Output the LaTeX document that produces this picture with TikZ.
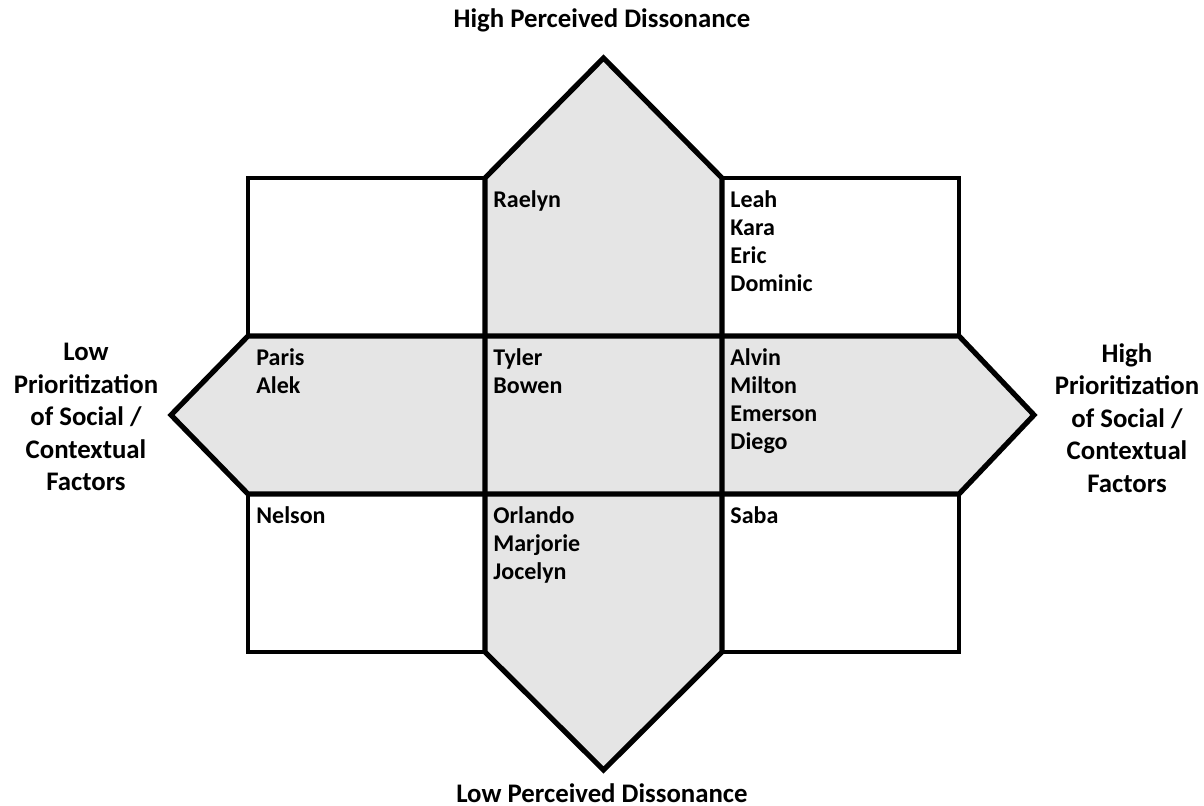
\documentclass[tikz,border=0pt]{standalone}
\usepackage{fontspec}
\setmainfont{Carlito}
\usetikzlibrary{positioning}

\begin{document}
\begin{tikzpicture}[x=0.5pt,y=-0.5pt,
  cell/.style={minimum width=118.5pt,minimum height=79pt,outer sep=0pt,inner sep=0pt},
  box/.style={cell,draw,line width=2pt},
  arrow/.style={draw,line width=2.6pt,line join=miter},
  names/.style={anchor=north west,align=left,inner sep=0pt,font=\fontsize{12}{14}\selectfont\bfseries},
  axis/.style={align=center,inner sep=0pt,font=\fontsize{13.4}{16.25}\selectfont\bfseries}]
\useasboundingbox (0,0) rectangle (1204,806);
% grid of cells
\node [cell] (m) at (603.5,415) {};
\node [cell, left=0pt of m] (l) {};
\node [cell, right=0pt of m] (r) {};
\node [cell, above=0pt of m] (t) {};
\node [cell, below=0pt of m] (b) {};
\coordinate (tipN) at (603.5,58);
\coordinate (tipS) at (603.5,770);
\coordinate (tipW) at (171,415);
\coordinate (tipE) at (1034,415);
% the two arrows
\fill [black!10] (t.north west) -- (tipN) -- (t.north east) -- (b.south east) -- (tipS) -- (b.south west) -- cycle;
\fill [black!10] (l.north west) -- (tipW) -- (l.south west) -- (r.south east) -- (tipE) -- (r.north east) -- cycle;
\draw [arrow] (t.north west) -- (tipN) -- (t.north east) -- (b.south east) -- (tipS) -- (b.south west) -- cycle;
\draw [arrow] (l.north west) -- (tipW) -- (l.south west) -- (r.south east) -- (tipE) -- (r.north east) -- cycle;
% corner boxes
\node [box, left=0pt of t] (tl) {};
\node [box, right=0pt of t] (tr) {};
\node [box, left=0pt of b] (bl) {};
\node [box, right=0pt of b] (br) {};
% names
\node [names, below right=6pt and 4pt of t.north west] (nt) {Raelyn};
\node [names, below right=6pt and 4pt of tr.north west] (ntr) {Leah\\Kara\\Eric\\Dominic};
\node [names, below right=6pt and 4pt of l.north west] (nl) {Paris\\Alek};
\node [names, below right=6pt and 4pt of m.north west] (nm) {Tyler\\Bowen};
\node [names, below right=6pt and 4pt of r.north west] (nr) {Alvin\\Milton\\Emerson\\Diego};
\node [names, below right=6pt and 4pt of bl.north west] (nbl) {Nelson};
\node [names, below right=6pt and 4pt of b.north west] (nb) {Orlando\\Marjorie\\Jocelyn};
\node [names, below right=6pt and 4pt of br.north west] (nbr) {Saba};
% axis labels
\node [axis, anchor=base] (high) at (602,28) {High Perceived Dissonance};
\node [axis, anchor=base] (low) at (602,802) {Low Perceived Dissonance};
\node [axis, anchor=north] (lowp) at (86,343) {Low\\Prioritization\\of Social /\\Contextual\\Factors};
\node [axis, anchor=north] (highp) at (1127,343) {High\\Prioritization\\of Social /\\Contextual\\Factors};
\end{tikzpicture}
\end{document}
